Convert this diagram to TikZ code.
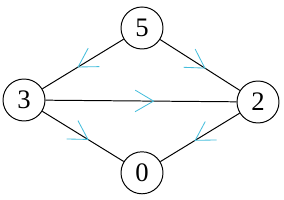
\documentclass[tikz,border=0pt]{standalone}
\usepackage{fontspec}
\setmainfont{Liberation Serif}
\usetikzlibrary{arrows.meta,decorations.markings}
\definecolor{arrowcyan}{RGB}{70,190,220}
\begin{document}
\begin{tikzpicture}[x=1.0cm, y=1.0cm,
		vertex/.style={circle, draw, line width=0.7pt, minimum size=1.05cm, inner sep=0pt, font=\fontsize{19}{22}\selectfont},
		edge/.style={line width=0.7pt, postaction={decorate}, decoration={markings,
			mark=at position 0.57 with {\arrow[arrowcyan, line width=0.6pt]{Straight Barb[length=4.6mm,width=5.4mm]}}}}]
	% 1. 画布边界
	\useasboundingbox (0,0) rectangle (7.1,5);
	
	% 2. 顶点
	\node[vertex] (n5) at (3.55,4.3) {5};
	\node[vertex] (n3) at (0.6,2.5) {3};
	\node[vertex] (n2) at (6.45,2.45) {2};
	\node[vertex] (n0) at (3.55,0.68) {0};
	
	% 3. 有向边 (箭头在边中部)
	\draw[edge] (n5) -- (n3);
	\draw[edge] (n5) -- (n2);
	\draw[edge] (n3) -- (n2);
	\draw[edge] (n3) -- (n0);
	\draw[edge] (n2) -- (n0);
\end{tikzpicture}
\end{document}
